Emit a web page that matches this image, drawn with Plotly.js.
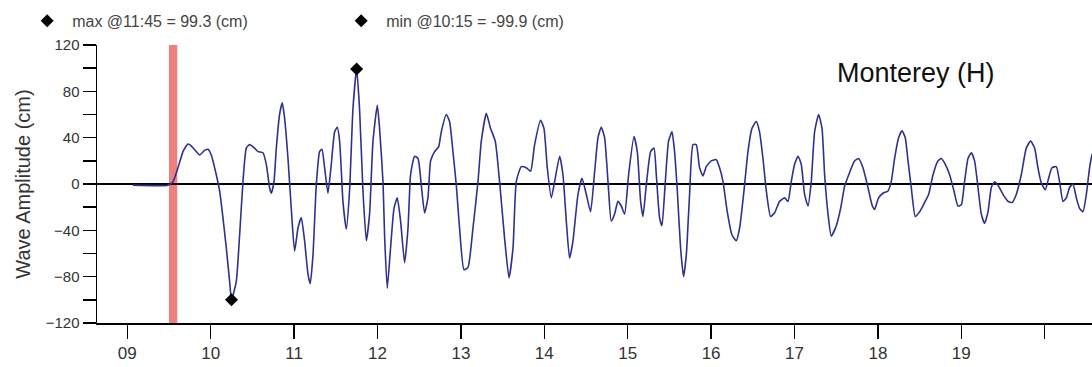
<!DOCTYPE html>
<html>
<head>
<meta charset="utf-8">
<script src="https://cdn.plot.ly/plotly-3.0.1.min.js"></script>
<style>html,body{margin:0;padding:0;background:#fff;}#chart{width:1092px;height:367px;}</style>
</head>
<body>
<div id="chart"></div>
<script>
// Time in decimal hours, amplitude in cm
const timeHours = [
 9.068, 9.488, 9.548, 9.608, 9.668, 9.728, 9.767, 9.827, 9.867, 9.927,
 9.968, 10.007, 10.067, 10.107, 10.147, 10.187, 10.227, 10.25, 10.307, 10.347,
 10.387, 10.427, 10.466, 10.526, 10.567, 10.627, 10.667, 10.706, 10.727, 10.759,
 10.787, 10.826, 10.858, 10.886, 10.927, 10.966, 11.006, 11.047, 11.086, 11.126,
 11.167, 11.194, 11.227, 11.266, 11.306, 11.334, 11.366, 11.406, 11.446, 11.486,
 11.518, 11.546, 11.586, 11.626, 11.665, 11.706, 11.75, 11.785, 11.826, 11.866,
 11.905, 11.946, 11.998, 12.025, 12.066, 12.085, 12.117, 12.157, 12.198, 12.237,
 12.277, 12.325, 12.366, 12.397, 12.445, 12.486, 12.525, 12.565, 12.605, 12.637,
 12.685, 12.733, 12.765, 12.825, 12.864, 12.905, 12.945, 12.984, 13.037, 13.085,
 13.145, 13.205, 13.245, 13.305, 13.356, 13.412, 13.464, 13.524, 13.577, 13.625,
 13.664, 13.724, 13.784, 13.836, 13.884, 13.956, 13.996, 14.036, 14.084, 14.124,
 14.184, 14.224, 14.264, 14.303, 14.344, 14.404, 14.452, 14.504, 14.555, 14.603,
 14.644, 14.683, 14.723, 14.764, 14.803, 14.843, 14.883, 14.923, 14.963, 15.011,
 15.075, 15.115, 15.155, 15.183, 15.223, 15.275, 15.315, 15.343, 15.382, 15.411,
 15.451, 15.490, 15.531, 15.562, 15.595, 15.634, 15.670, 15.703, 15.742, 15.783,
 15.822, 15.862, 15.903, 15.942, 16.002, 16.062, 16.102, 16.143, 16.194, 16.251,
 16.302, 16.342, 16.394, 16.442, 16.490, 16.542, 16.581, 16.622, 16.662, 16.713,
 16.761, 16.821, 16.881, 16.922, 16.961, 17.001, 17.042, 17.081, 17.121, 17.162,
 17.201, 17.241, 17.289, 17.330, 17.361, 17.402, 17.441, 17.501, 17.553, 17.601,
 17.661, 17.721, 17.768, 17.821, 17.881, 17.929, 17.960, 18.008, 18.061, 18.121,
 18.160, 18.200, 18.248, 18.289, 18.328, 18.361, 18.400, 18.448, 18.500, 18.560,
 18.608, 18.661, 18.721, 18.760, 18.808, 18.860, 18.912, 18.960, 19.000, 19.039,
 19.080, 19.120, 19.159, 19.200, 19.240, 19.279, 19.320, 19.360, 19.399, 19.440,
 19.500, 19.560, 19.608, 19.659, 19.719, 19.779, 19.831, 19.879, 19.919, 19.959,
 20.007, 20.047, 20.087, 20.139, 20.178, 20.219, 20.259, 20.298, 20.339, 20.379,
 20.418, 20.459, 20.499, 20.538, 20.567, 20.61
];
const amplitudeCm = [
 -1, -1, 2, 14, 28, 34.5, 33, 28, 25, 29,
 30, 25, 8, -6, -29, -55, -84, -99.9, -84, -44,
 2, 31, 34, 31, 28, 27, 17, -3, -8, 2,
 31, 60, 70, 57, 22, -21, -58, -38, -29, -49,
 -78, -86, -61, -1, 28, 30, 14, -8, 17, 45,
 49, 37, -15, -39, -6, 65, 99.3, 65, -6, -49,
 -26, 37, 68, 48, 2, -44, -90, -55, -21, -12,
 -32, -68, -38, 8, 24, 22, -1, -25, -12, 20,
 28, 32, 45, 60, 54, 28, -1, -38, -74, -72,
 -38, 2, 37, 61, 48, 37, 2, -47, -81, -55,
 2, 15, 14, 11, 34, 55, 48, 14, -12, 2,
 24, 8, -32, -64, -49, -9, 5, -9, -24, 10,
 40, 49, 40, 2, -32, -26, -15, -19, -26, 8,
 41, 28, -15, -28, -1, 28, 31, 8, -29, -36,
 2, 37, 45, 28, -6, -55, -80, -61, -9, 34,
 34, 14, 7, 15, 20, 21, 14, 2, -24, -44,
 -49, -38, -6, 28, 48, 54, 45, 22, -6, -28,
 -25, -15, -12, -15, 2, 17, 24, 17, -9, -19,
 2, 45, 60, 48, 8, -26, -45, -36, -21, -2,
 10, 20, 22, 14, -3, -18, -22, -12, -8, -6,
 2, 22, 40, 46, 40, 20, -3, -28, -24, -16,
 -9, 8, 20, 22, 17, 8, -6, -19, -18, 2,
 22, 27, 20, -3, -26, -34, -24, -3, 2, -1,
 -9, -15, -16, -9, 8, 31, 37, 31, 14, 1,
 -5, 5, 14, 15, 2, -15, -12, -3, 0, -12,
 -21, -24, -9, 14, 25, 32
];
const maxPoint = {label: "max @11:45 = 99.3 (cm)", time: 11.75, value: 99.3};
const minPoint = {label: "min @10:15 = -99.9 (cm)", time: 10.25, value: -99.9};
const arrivalWindow = [9.5, 9.6];
const xTickVals = [9, 10, 11, 12, 13, 14, 15, 16, 17, 18, 19, 20];
const xTickText = ["09", "10", "11", "12", "13", "14", "15", "16", "17", "18", "19", ""];
const yTickVals = [-120, -80, -40, 0, 40, 80, 120];
const stationName = "Monterey (H)";
const yTitle = "Wave Amplitude (cm)";

const FONT = "Liberation Sans, Arial, sans-serif";

const traces = [
  {x: timeHours, y: amplitudeCm, type: "scatter", mode: "lines",
   line: {color: "#2e3190", width: 1.6, shape: "spline", smoothing: 0.5}, showlegend: false, hoverinfo: "skip"},
  {x: [maxPoint.time], y: [maxPoint.value], type: "scatter", mode: "markers",
   name: maxPoint.label, marker: {symbol: "diamond", size: 10, color: "#000"}},
  {x: [minPoint.time], y: [minPoint.value], type: "scatter", mode: "markers",
   name: minPoint.label, marker: {symbol: "diamond", size: 10, color: "#000"}}
];

const layout = {
  width: 1092, height: 367,
  margin: {l: 97, r: 0, t: 45, b: 44, pad: 0},
  paper_bgcolor: "#fff", plot_bgcolor: "#fff",
  font: {family: FONT, color: "#333"},
  showlegend: true,
  legend: {orientation: "h", xref: "container", yref: "container",
           x: 0.0203, y: 0.9895, xanchor: "left", yanchor: "top",
           itemwidth: 40,
           font: {size: 16, color: "#444", family: FONT},
           entrywidth: 259, entrywidthmode: "pixels", bgcolor: "rgba(0,0,0,0)"},
  xaxis: {range: [8.637, 20.567], tickmode: "array", tickvals: xTickVals, ticktext: xTickText,
          ticks: "outside", ticklen: 14, tickwidth: 1.5, tickcolor: "#000",
          showline: true, linecolor: "#000", linewidth: 1.5,
          showgrid: false, zeroline: false,
          tickfont: {size: 17, color: "#333", family: FONT}},
  yaxis: {range: [-120, 120], tickmode: "array", tickvals: yTickVals,
          ticks: "outside", ticklen: 13, tickwidth: 1.5, tickcolor: "#000",
          minor: {dtick: 20, tick0: 0, ticks: "outside", ticklen: 13, tickwidth: 1.5, tickcolor: "#000", showgrid: false},
          showline: true, linecolor: "#000", linewidth: 1.5,
          showgrid: false, zeroline: true, zerolinecolor: "#000", zerolinewidth: 1.5,
          tickfont: {size: 15, color: "#333", family: FONT},
          title: {text: yTitle, font: {size: 20, color: "#333", family: FONT}, standoff: 9}},
  shapes: [{type: "rect", xref: "x", yref: "paper", x0: arrivalWindow[0], x1: arrivalWindow[1],
            y0: 0, y1: 1, fillcolor: "#f08080", line: {width: 0}, layer: "below"}],
  annotations: [{text: stationName, xref: "paper", yref: "paper", x: 0.823, y: 0.90,
                 xanchor: "center", yanchor: "middle", showarrow: false,
                 font: {size: 27, color: "#111", family: FONT}}]
};

Plotly.newPlot("chart", traces, layout, {displayModeBar: false, staticPlot: true});
</script>
</body>
</html>
